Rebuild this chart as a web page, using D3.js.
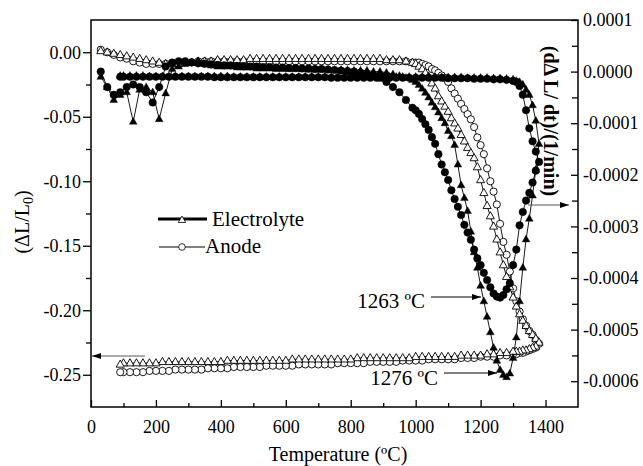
<!DOCTYPE html>
<html lang="en">
<head>
<meta charset="UTF-8">
<title>Dilatometry of electrolyte and anode</title>
<style>
  body { margin: 0; background: #fff; }
  svg { display: block; }
  svg text { font-family: "Liberation Serif", "Times New Roman", serif !important; fill: #000; }
</style>
</head>
<body>
<div id="chart"></div>
<script src="https://cdnjs.cloudflare.com/ajax/libs/d3/7.8.5/d3.min.js"></script>
<script>
// heating temperatures (ºC), shared by the four heating curves
var heatT = [30,50,70,90,110,130,150,170,190,210,230,250,270,290,310,330,350,370,390,410,
  430,450,470,490,510,530,550,570,590,610,630,650,670,690,710,730,750,770,790,810,
  830,850,870,890,910,930,950,970,990,
  1000,1010,1020,1030,1040,1050,1060,1070,1080,1090,1100,1110,1120,1130,1140,1150,1160,1170,1180,1190,
  1200,1210,1220,1230,1240,1250,1260,1270,1280,1290,1300,1310,1320,1330,1340,1350,1360,1370,1380];

// cooling temperatures (ºC), shared by the four cooling curves
var coolT = [1370,1360,1350,1340,1330,1320,1310,1300,
  1280,1260,1240,1220,1200,1180,1160,1140,1120,1100,1080,1060,1040,1020,1000,980,960,940,920,900,
  880,860,840,820,800,780,760,740,720,700,680,660,640,620,600,580,560,540,520,500,
  480,460,440,420,400,380,360,340,320,300,280,260,240,220,200,180,160,140,120,100,90];

// dL/L0, electrolyte (open triangles)
var elecStrainHeat = [0.001,0.000,-0.001,-0.002,-0.003,-0.004,-0.005,-0.006,-0.007,-0.008,
  -0.009,-0.009,-0.009,-0.008,-0.008,-0.007,-0.007,-0.007,-0.006,-0.006,
  -0.006,-0.006,-0.006,-0.005,-0.005,-0.005,-0.005,-0.005,-0.005,-0.005,
  -0.005,-0.005,-0.005,-0.005,-0.005,-0.005,-0.005,-0.005,-0.005,-0.005,
  -0.005,-0.005,-0.005,-0.005,-0.006,-0.006,-0.006,-0.007,-0.008,
  -0.009,-0.011,-0.013,-0.016,-0.019,-0.024,-0.028,-0.034,-0.038,-0.042,
  -0.046,-0.051,-0.055,-0.059,-0.064,-0.069,-0.074,-0.078,-0.082,-0.089,
  -0.099,-0.109,-0.119,-0.127,-0.135,-0.145,-0.155,-0.165,-0.174,-0.182,
  -0.190,-0.197,-0.203,-0.208,-0.212,-0.216,-0.219,-0.222,-0.225];
var elecStrainCool = [-0.228,-0.229,-0.230,-0.231,-0.231,-0.232,-0.232,-0.232,
  -0.233,-0.233,-0.234,-0.234,-0.235,-0.235,-0.235,-0.235,-0.236,-0.236,
  -0.236,-0.236,-0.236,-0.236,-0.236,-0.237,-0.237,-0.237,-0.237,-0.237,
  -0.237,-0.237,-0.237,-0.237,-0.238,-0.238,-0.238,-0.238,-0.238,-0.238,
  -0.238,-0.238,-0.238,-0.238,-0.239,-0.239,-0.239,-0.239,-0.239,-0.239,
  -0.239,-0.239,-0.239,-0.239,-0.240,-0.240,-0.240,-0.240,-0.240,-0.240,
  -0.240,-0.240,-0.240,-0.240,-0.241,-0.241,-0.241,-0.241,-0.241,-0.241,-0.242];

// dL/L0, anode (open circles)
var anodeStrainHeat = [0.002,0.000,-0.002,-0.004,-0.005,-0.007,-0.008,-0.009,-0.009,-0.009,
  -0.009,-0.008,-0.008,-0.008,-0.008,-0.007,-0.007,-0.007,-0.007,-0.007,
  -0.007,-0.007,-0.007,-0.007,-0.007,-0.007,-0.007,-0.007,-0.007,-0.007,
  -0.007,-0.007,-0.007,-0.007,-0.007,-0.007,-0.007,-0.007,-0.007,-0.007,
  -0.007,-0.007,-0.007,-0.007,-0.007,-0.007,-0.007,-0.007,-0.008,
  -0.008,-0.008,-0.009,-0.010,-0.011,-0.013,-0.014,-0.016,-0.018,-0.020,
  -0.023,-0.028,-0.032,-0.036,-0.040,-0.044,-0.048,-0.052,-0.058,-0.066,
  -0.072,-0.079,-0.090,-0.100,-0.108,-0.118,-0.133,-0.147,-0.157,-0.170,
  -0.183,-0.193,-0.201,-0.207,-0.212,-0.216,-0.219,-0.223,-0.226];
var anodeStrainCool = [-0.229,-0.230,-0.231,-0.232,-0.233,-0.233,-0.234,-0.234,
  -0.235,-0.235,-0.236,-0.236,-0.236,-0.237,-0.237,-0.237,-0.238,-0.238,
  -0.238,-0.238,-0.238,-0.239,-0.239,-0.239,-0.239,-0.240,-0.240,-0.240,
  -0.240,-0.240,-0.241,-0.241,-0.241,-0.241,-0.241,-0.242,-0.242,-0.242,
  -0.242,-0.242,-0.242,-0.243,-0.243,-0.243,-0.243,-0.243,-0.244,-0.244,
  -0.244,-0.244,-0.244,-0.245,-0.245,-0.245,-0.245,-0.246,-0.246,-0.246,
  -0.246,-0.246,-0.247,-0.247,-0.247,-0.247,-0.248,-0.248,-0.248,-0.248,-0.248];

// d(dL)/dt in units of 1e-4 1/min, electrolyte (filled triangles)
var elecRateHeat = [-0.1,-0.3,-0.55,-0.45,-0.4,-0.97,-0.35,-0.3,-0.4,-0.92,
  -0.42,0.05,0.1,0.15,0.18,0.2,0.15,0.12,0.1,0.1,
  0.1,0.08,0.08,0.08,0.06,0.06,0.06,0.05,0.05,0.05,
  0.05,0.05,0.04,0.04,0.04,0.04,0.03,0.03,0.03,0.02,
  0.02,0.02,0.0,0.0,-0.02,-0.05,-0.08,-0.12,-0.16,
  -0.2,-0.26,-0.33,-0.41,-0.5,-0.6,-0.69,-0.79,-0.9,-1.0,
  -1.15,-1.25,-1.42,-1.8,-2.2,-2.45,-2.7,-3.1,-3.5,-3.8,
  -4.15,-4.45,-4.75,-5.05,-5.35,-5.6,-5.78,-5.88,-5.92,-5.85,
  -5.55,-5.15,-4.45,-3.8,-3.25,-2.85,-2.4,-1.9,-1.4];
var elecRateCool = [-0.95,-0.65,-0.45,-0.35,-0.25,-0.2,-0.18,-0.15,
  -0.14,-0.13,-0.13,-0.12,-0.12,-0.12,-0.12,-0.11,-0.11,-0.11,
  -0.11,-0.11,-0.1,-0.1,-0.1,-0.1,-0.1,-0.1,-0.1,-0.1,
  -0.1,-0.1,-0.1,-0.1,-0.1,-0.1,-0.1,-0.1,-0.1,-0.1,
  -0.1,-0.1,-0.1,-0.1,-0.1,-0.1,-0.1,-0.1,-0.1,-0.1,
  -0.1,-0.1,-0.1,-0.09,-0.09,-0.09,-0.09,-0.09,-0.09,-0.09,
  -0.09,-0.09,-0.09,-0.09,-0.09,-0.09,-0.08,-0.08,-0.08,-0.08,-0.08];

// d(dL)/dt in units of 1e-4 1/min, anode (filled circles)
var anodeRateHeat = [0.0,-0.3,-0.45,-0.4,-0.3,-0.25,-0.3,-0.4,-0.6,-0.3,
  0.1,0.17,0.2,0.2,0.18,0.16,0.15,0.14,0.13,0.12,
  0.12,0.11,0.1,0.1,0.1,0.09,0.09,0.08,0.08,0.07,
  0.07,0.06,0.06,0.05,0.05,0.04,0.03,0.02,0.01,0.0,
  -0.02,-0.05,-0.08,-0.12,-0.2,-0.3,-0.4,-0.55,-0.7,
  -0.75,-0.82,-0.92,-1.02,-1.13,-1.27,-1.4,-1.6,-1.8,-1.95,
  -2.1,-2.3,-2.47,-2.62,-2.78,-2.97,-3.12,-3.26,-3.45,-3.62,
  -3.75,-3.9,-4.04,-4.18,-4.3,-4.36,-4.38,-4.33,-4.22,-4.1,
  -3.75,-3.45,-2.98,-2.72,-2.5,-2.35,-2.15,-1.92,-1.75];
var anodeRateCool = [-1.55,-1.35,-1.1,-0.75,-0.45,-0.28,-0.2,-0.18,
  -0.16,-0.15,-0.15,-0.14,-0.14,-0.14,-0.13,-0.13,-0.13,-0.13,
  -0.12,-0.12,-0.12,-0.12,-0.12,-0.12,-0.12,-0.12,-0.12,-0.12,
  -0.12,-0.12,-0.12,-0.12,-0.12,-0.12,-0.12,-0.12,-0.11,-0.11,
  -0.11,-0.11,-0.11,-0.11,-0.11,-0.11,-0.11,-0.11,-0.11,-0.11,
  -0.11,-0.11,-0.11,-0.11,-0.11,-0.11,-0.1,-0.1,-0.1,-0.1,
  -0.1,-0.1,-0.1,-0.1,-0.1,-0.1,-0.1,-0.1,-0.1,-0.1,-0.1];

// axis ticks
var xTicks = [0,200,400,600,800,1000,1200,1400];
var xMinor = [100,300,500,700,900,1100,1300];
var leftTicks = [0,-0.05,-0.10,-0.15,-0.20,-0.25];
var leftMinor = [-0.025,-0.075,-0.125,-0.175,-0.225];
var rightTicks = [1,0,-1,-2,-3,-4,-5,-6];
var rightMinor = [0.5,-0.5,-1.5,-2.5,-3.5,-4.5,-5.5];

var margin = {top: 20, right: 65, bottom: 59, left: 91},
    width = 643 - margin.left - margin.right,
    height = 466 - margin.top - margin.bottom;

var svg = d3.select("#chart").append("svg")
  .attr("width", 643).attr("height", 466);

var defs = svg.append("defs");
defs.append("marker")
  .attr("id", "arrow")
  .attr("viewBox", "0 -4 9 8")
  .attr("refX", 9).attr("refY", 0)
  .attr("markerUnits", "userSpaceOnUse")
  .attr("markerWidth", 9).attr("markerHeight", 8)
  .attr("orient", "auto")
  .append("path").attr("d", "M0,-3L9,0L0,3Z").attr("fill", "#000");

var g = svg.append("g")
  .attr("transform", "translate(" + margin.left + "," + margin.top + ")");

var x = d3.scaleLinear().domain([0, 1500]).range([0, width]);
var yL = d3.scaleLinear().domain([-0.275, 0.025]).range([height, 0]);
var yR = d3.scaleLinear().domain([-6.5, 1.0]).range([height, 0]);

// axes
g.append("g")
  .attr("transform", "translate(0," + height + ")")
  .call(d3.axisBottom(x).tickValues(xTicks).tickSizeInner(-7).tickSizeOuter(0).tickPadding(13)
    .tickFormat(function(d) { return String(d); }));
g.append("g")
  .attr("transform", "translate(0," + height + ")")
  .call(d3.axisBottom(x).tickValues(xMinor).tickSizeInner(-4).tickSizeOuter(0).tickFormat(""));

g.append("g")
  .call(d3.axisLeft(yL).tickValues(leftTicks).tickSizeInner(8).tickSizeOuter(0).tickPadding(2)
    .tickFormat(function(d) { return d.toFixed(2); }));
g.append("g")
  .call(d3.axisLeft(yL).tickValues(leftMinor).tickSizeInner(5).tickSizeOuter(0).tickFormat(""));

g.append("g")
  .attr("transform", "translate(" + width + ",0)")
  .call(d3.axisRight(yR).tickValues(rightTicks).tickSizeInner(-7).tickSizeOuter(0).tickPadding(5)
    .tickFormat(function(d) { return (d / 10000).toFixed(4); }));
g.append("g")
  .attr("transform", "translate(" + width + ",0)")
  .call(d3.axisRight(yR).tickValues(rightMinor).tickSizeInner(-6).tickSizeOuter(0).tickFormat(""));

g.selectAll(".domain").remove();
g.selectAll(".tick line").attr("stroke", "#000").attr("stroke-width", 1.3);
g.selectAll(".tick text").style("font-size", "18px");

// frame
g.append("rect")
  .attr("width", width).attr("height", height)
  .attr("fill", "none").attr("stroke", "#000").attr("stroke-width", 1.5);

// marker shapes
function triPath(s) {
  return "M0," + (-s) + "L" + (s * 0.92) + "," + (s * 0.62) + "L" + (-s * 0.92) + "," + (s * 0.62) + "Z";
}
function circPath(r) {
  return d3.symbol().type(d3.symbolCircle).size(Math.PI * r * r)();
}

function series(temps1, vals1, temps2, vals2) {
  return d3.zip(temps1, vals1).concat(d3.zip(temps2, vals2));
}

var curves = [
  {pts: series(heatT, anodeStrainHeat, coolT, anodeStrainCool), y: yL, shape: circPath(3.6), fill: "#fff"},
  {pts: series(heatT, elecStrainHeat, coolT, elecStrainCool), y: yL, shape: triPath(4.4), fill: "#fff"},
  {pts: series(heatT, anodeRateHeat, coolT, anodeRateCool), y: yR, shape: circPath(3.8), fill: "#000"},
  {pts: series(heatT, elecRateHeat, coolT, elecRateCool), y: yR, shape: triPath(4.2), fill: "#000"}
];

// connecting lines
curves.forEach(function(c) {
  g.append("path").datum(c.pts)
    .attr("fill", "none").attr("stroke", "#000").attr("stroke-width", 0.9)
    .attr("d", d3.line().x(function(d) { return x(d[0]); }).y(function(d) { return c.y(d[1]); }));
});

// symbols
curves.forEach(function(c) {
  g.append("g").selectAll("path")
    .data(c.pts)
    .enter().append("path")
    .attr("transform", function(d) { return "translate(" + x(d[0]) + "," + c.y(d[1]) + ")"; })
    .attr("d", c.shape)
    .attr("fill", c.fill)
    .attr("stroke", "#000")
    .attr("stroke-width", c.fill == "#fff" ? 0.9 : 0.4);
});

// axis titles
svg.append("text")
  .attr("x", 338).attr("y", 461)
  .attr("text-anchor", "middle").style("font-size", "20px")
  .text("Temperature (ºC)");

var yTitle = svg.append("text")
  .attr("transform", "translate(29,222) rotate(-90)")
  .attr("text-anchor", "middle").style("font-size", "20px");
yTitle.append("tspan").text("(ΔL/L");
yTitle.append("tspan").style("font-size", "14px").attr("dy", 4).text("0");
yTitle.append("tspan").attr("dy", -4).text(")");

svg.append("text")
  .attr("transform", "translate(551,121) rotate(90)")
  .attr("text-anchor", "middle").attr("dy", "0.35em")
  .style("font-size", "20px").style("font-weight", "bold")
  .text("(dΔ L/ dt)/(1/min)");

// legend
svg.append("line").attr("x1", 158).attr("x2", 207).attr("y1", 219).attr("y2", 219)
  .attr("stroke", "#000").attr("stroke-width", 3.2);
svg.append("path").attr("transform", "translate(182,220)").attr("d", triPath(4))
  .attr("fill", "#fff").attr("stroke", "#000").attr("stroke-width", 0.8);
svg.append("text").attr("x", 212).attr("y", 226).style("font-size", "21px").text("Electrolyte");

svg.append("line").attr("x1", 159).attr("x2", 205).attr("y1", 247).attr("y2", 247)
  .attr("stroke", "#000").attr("stroke-width", 1.2);
svg.append("path").attr("transform", "translate(182,247)").attr("d", circPath(3.3))
  .attr("fill", "#fff").attr("stroke", "#000").attr("stroke-width", 0.8);
svg.append("text").attr("x", 205).attr("y", 253).style("font-size", "21px").text("Anode");

// peak annotations
svg.append("text").attr("x", 425).attr("y", 308).attr("text-anchor", "end")
  .style("font-size", "21px").text("1263 ºC");
svg.append("line").attr("x1", 431).attr("x2", 481).attr("y1", 297).attr("y2", 297)
  .attr("stroke", "#000").attr("stroke-width", 1.2).attr("marker-end", "url(#arrow)");

svg.append("text").attr("x", 438).attr("y", 385).attr("text-anchor", "end")
  .style("font-size", "21px").text("1276 ºC");
svg.append("line").attr("x1", 444).attr("x2", 497).attr("y1", 373).attr("y2", 373)
  .attr("stroke", "#000").attr("stroke-width", 1.2).attr("marker-end", "url(#arrow)");

// axis pointer arrows
svg.append("line").attr("x1", 145).attr("x2", 92).attr("y1", 356).attr("y2", 356)
  .attr("stroke", "#555").attr("stroke-width", 1).attr("marker-end", "url(#arrow)");
svg.append("line").attr("x1", 528).attr("x2", 569).attr("y1", 205).attr("y2", 205)
  .attr("stroke", "#555").attr("stroke-width", 1).attr("marker-end", "url(#arrow)");
</script>
</body>
</html>
